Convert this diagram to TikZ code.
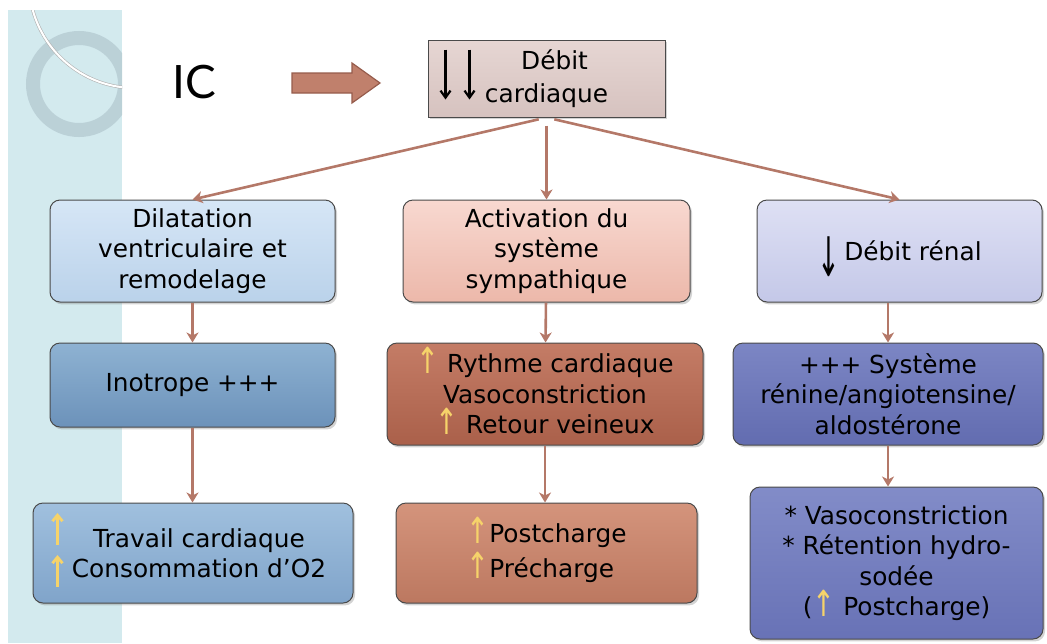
\documentclass[tikz,border=0pt]{standalone}
\usepackage{fontspec}
\setmainfont{DejaVu Sans}
\newfontfamily\titrefont{Lato}
\usepackage{tikz}
\usetikzlibrary{arrows.meta,shadows}

\definecolor{bande}{HTML}{D3EAEE}
\definecolor{anneau}{HTML}{B5CBD2}
\definecolor{lienbrun}{HTML}{B47868}
\definecolor{jaune}{HTML}{F6D36A}
\definecolor{bord}{HTML}{4A4A4A}

\newcommand\hausse{\textcolor{jaune}{\smash{\raisebox{-0.5pt}{\scalebox{1.1}[1.45]{↑}}}}}
\newcommand\bas{\smash{\raisebox{-8pt}{\scalebox{1.1}[2.2]{↓}}}}

\begin{document}
\begin{tikzpicture}[x=0.5pt,y=-0.5pt,
	boite/.style={draw=bord, line width=0.5pt, rounded corners=5pt, align=center,
		inner sep=0pt, font=\fontsize{12.4}{15.2}\selectfont,
		drop shadow={opacity=0.35, shadow xshift=1pt, shadow yshift=-1.2pt}},
	lien/.style={draw=lienbrun, line width=1.3pt, -{Stealth[length=5pt,width=6pt,inset=1.5pt]}},
	hausseligne/.style={draw=jaune, line width=1.4pt, -{Straight Barb[length=3pt,width=5pt]}},
	basligne/.style={draw=black, line width=1.1pt, -{Straight Barb[length=3.5pt,width=5pt]}}]

	\useasboundingbox (0,0) rectangle (1047,643);

	% bande de gauche
	\fill[bande] (8,10) rectangle (122,643);
	\begin{scope}
		\clip (8,10) rectangle (122,643);
		\draw[anneau, line width=7pt, opacity=0.8] (79,84) circle (46);
		\draw[gray!60, line width=1.6pt] (135,-18) circle (106);
		\draw[white, line width=1pt] (135,-18) circle (106);
	\end{scope}

	\node[font=\titrefont\fontsize{23}{23}\selectfont] (ic) at (194,82) {IC};
	\filldraw[fill={rgb,255:red,192;green,128;blue,108}, draw={rgb,255:red,150;green,92;blue,76}, line width=0.6pt]
		(292,73) -- (352,73) -- (352,63) -- (380,83) -- (352,103) -- (352,93) -- (292,93) -- cycle;

	\node[boite, rounded corners=0pt, minimum width=118.5pt, minimum height=38.5pt,
		top color={rgb,255:red,230;green,214;blue,211}, bottom color={rgb,255:red,214;green,194;blue,191},
		font=\fontsize{12.4}{16.5}\selectfont] (debit) at (546.5,78.5) {\hspace{8pt}Débit\\cardiaque};
	\draw[basligne] ([xshift=9pt,yshift=-5pt]debit.north west) -- ++(0,-25pt);
	\draw[basligne] ([xshift=21pt,yshift=-5pt]debit.north west) -- ++(0,-25pt);

	\node[boite, minimum width=142.5pt, minimum height=51pt,
		top color={rgb,255:red,214;green,230;blue,246}, bottom color={rgb,255:red,186;green,210;blue,234}] (dilat) at (192.5,251) {Dilatation\\ventriculaire et\\remodelage};
	\node[boite, minimum width=143.5pt, minimum height=51pt,
		top color={rgb,255:red,248;green,216;blue,208}, bottom color={rgb,255:red,236;green,184;blue,170}] (activ) at (546.5,251) {Activation du\\système\\sympathique};
	\node[boite, minimum width=142.5pt, minimum height=51pt,
		top color={rgb,255:red,222;green,224;blue,244}, bottom color={rgb,255:red,196;green,200;blue,232}] (renal) at (899.5,251) {\bas\,Débit rénal};

	\node[boite, minimum width=142.5pt, minimum height=42pt,
		top color={rgb,255:red,142;green,178;blue,210}, bottom color={rgb,255:red,108;green,146;blue,186}] (inotrope) at (192.5,385) {Inotrope +++};
	\node[boite, minimum width=158pt, minimum height=51pt,
		top color={rgb,255:red,196;green,124;blue,102}, bottom color={rgb,255:red,170;green,96;blue,74}] (rythme) at (545,394) {\hausse\ Rythme cardiaque\\Vasoconstriction\\\hausse\ Retour veineux};
	\node[boite, minimum width=155pt, minimum height=51pt,
		top color={rgb,255:red,124;green,134;blue,196}, bottom color={rgb,255:red,98;green,108;blue,176}] (raa) at (888,394) {+++ Système\\rénine/angiotensine/\\aldostérone};

	\node[boite, minimum width=160pt, minimum height=50pt,
		top color={rgb,255:red,160;green,192;blue,222}, bottom color={rgb,255:red,128;green,164;blue,202}] (travail) at (193,553) {\hspace{6pt}Travail cardiaque\\\hspace{6pt}Consommation d’O2};
	\draw[hausseligne] ([xshift=12.5pt,yshift=4pt]travail.west) -- ++(0,16pt);
	\draw[hausseligne] ([xshift=12.5pt,yshift=-17pt]travail.west) -- ++(0,16pt);
	\node[boite, minimum width=150.5pt, minimum height=50pt, align=left, font=\fontsize{12.4}{17.5}\selectfont,
		top color={rgb,255:red,212;green,148;blue,124}, bottom color={rgb,255:red,188;green,120;blue,96}] (charge) at (546.5,553) {\hausse Postcharge\\\hausse Précharge};
	\node[boite, minimum width=146.5pt, minimum height=76pt,
		top color={rgb,255:red,130;green,140;blue,200}, bottom color={rgb,255:red,104;green,114;blue,182}] (retention) at (896.5,563) {* Vasoconstriction\\* Rétention hydro-\\sodée\\(\hausse\ Postcharge)};

	\draw[lien, shorten <=4pt] (debit.south) -- (dilat.north);
	\draw[lien, shorten <=4pt] (debit.south) -- (activ.north);
	\draw[lien, shorten <=4pt] (debit.south) -- (renal.north);
	\draw[lien] (dilat) -- (inotrope);
	\draw[lien] (activ) -- (rythme);
	\draw[lien] (renal.south -| raa.north) -- (raa.north);
	\draw[lien] (inotrope.south) -- (inotrope.south |- travail.north);
	\draw[lien] (rythme.south) -- (rythme.south |- charge.north);
	\draw[lien] (raa.south) -- (raa.south |- retention.north);

\end{tikzpicture}
\end{document}
